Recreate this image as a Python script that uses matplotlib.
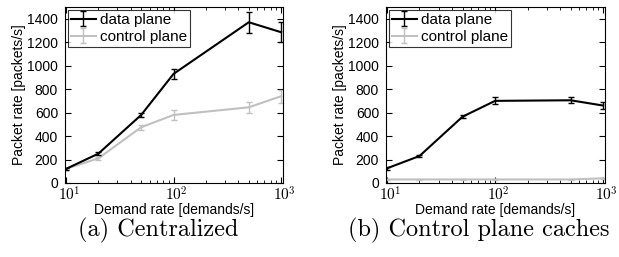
import matplotlib
matplotlib.use("Agg")
import matplotlib.pyplot as plt
import matplotlib.transforms as mtransforms
import numpy as np

demand = [10, 20, 50, 100, 500, 1000]

a_data = [120, 250, 580, 930, 1370, 1285]
a_data_err = [10, 12, 20, 40, 90, 85]
a_ctrl = [120, 210, 475, 580, 645, 740]
a_ctrl_err = [10, 15, 20, 45, 45, 55]

b_data = [125, 230, 565, 700, 705, 660]
b_data_err = [10, 10, 15, 30, 25, 30]
b_ctrl = [30, 30, 30, 30, 30, 40]
b_ctrl_err = [3, 3, 3, 3, 3, 4]

captions = ["(a) Centralized", "(b) Control plane caches"]
xtick_vals = [10, 100, 1000]
xtick_labels = [r'$10^{1}$', r'$10^{2}$', r'$10^{3}$']

plt.rcParams['font.family'] = ['Liberation Sans', 'DejaVu Sans']
plt.rcParams['mathtext.fontset'] = 'cm'

fig = plt.figure(figsize=(6.19, 2.57), dpi=100)
axes_pos = [[65/619, 1-183/257, 218/619, 176/257],
            [386/619, 1-183/257, 219/619, 176/257]]
caption_x = [158/619, 479/619]

sets = [(a_data, a_data_err, a_ctrl, a_ctrl_err), (b_data, b_data_err, b_ctrl, b_ctrl_err)]
axes = []
for i, (d, de, c, ce) in enumerate(sets):
    ax = fig.add_axes(axes_pos[i])
    axes.append(ax)
    ax.errorbar(demand, d, yerr=de, color='black', lw=1.5, capsize=2.5, elinewidth=1, capthick=1, label='data plane', zorder=3)
    ax.errorbar(demand, c, yerr=ce, color='#c0c0c0', lw=1.5, capsize=2.5, elinewidth=1, capthick=1, label='control plane', zorder=2)
    ax.set_xscale('log')
    ax.set_xlim(9.8, 1000 * 1.04)
    ax.set_ylim(0, 1500)
    ax.set_xticks(xtick_vals)
    ax.set_yticks([0, 200, 400, 600, 800, 1000, 1200, 1400])
    ax.tick_params(which='both', direction='in', top=True, right=True, labelsize=10)
    ax.tick_params(which='major', length=4)
    ax.tick_params(which='minor', length=2)
    ax.tick_params(axis='x', pad=2)
    ax.tick_params(axis='y', pad=5)
    ax.set_xticklabels(xtick_labels, fontsize=11)
    ax.set_xlabel('Demand rate [demands/s]', fontsize=10, labelpad=-1)
    ax.set_ylabel('Packet rate [packets/s]', fontsize=10, labelpad=1)
    leg = ax.legend(loc='upper left', fontsize=11, frameon=True, fancybox=False,
                    borderaxespad=0.2, handlelength=1.6, handletextpad=0.3,
                    borderpad=0.2, labelspacing=0.2)
    leg.get_frame().set_edgecolor('black')
    leg.get_frame().set_linewidth(0.8)
    fig.text(caption_x[i], 27/257, captions[i], ha='center', va='center',
             fontsize=17.5, family='cmr10')

fig.canvas.draw()
shift = mtransforms.ScaledTranslation(3/100, 0, fig.dpi_scale_trans)
for ax in axes:
    for lbl in ax.get_xticklabels():
        lbl.set_transform(lbl.get_transform() + shift)

fig.savefig('out.png', dpi=100)
